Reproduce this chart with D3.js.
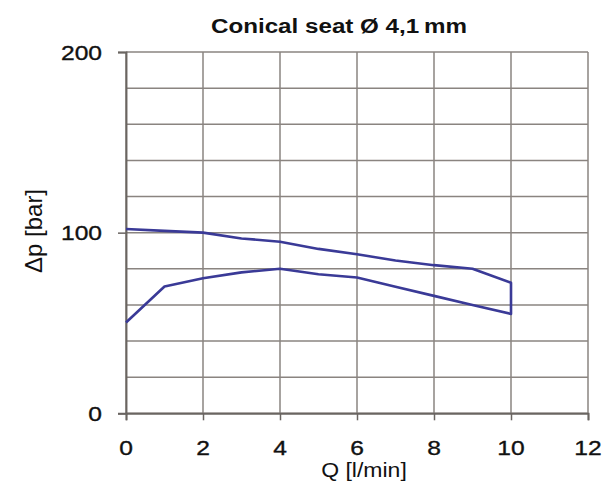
<!DOCTYPE html>
<html>
<head>
<meta charset="utf-8">
<script src="https://cdn.jsdelivr.net/npm/d3@7"></script>
<style>
  html, body { margin: 0; padding: 0; background: #ffffff; }
  svg { display: block; }
  text { font-family: "Liberation Sans", Arial, Helvetica, sans-serif; fill: #111111; }
  .label { stroke: #111111; stroke-width: 0.35; }
</style>
</head>
<body>
<svg id="chart" width="610" height="495"></svg>
<script>
// Flow rate Q [l/min] sampled along both branches of the curve
const flowUpper = [0, 1, 2, 3, 4, 5, 6, 7, 8, 9, 10];
const dpUpper   = [102, 101, 100, 96.8, 95, 91, 88, 84.6, 82, 80, 72.3];
const flowLower = [0, 1, 2, 3, 4, 5, 6, 7, 8, 9, 10];
const dpLower   = [50.3, 70.2, 74.8, 78, 80, 77, 75.2, 70.1, 65, 60, 55];

const xTicks = [0, 2, 4, 6, 8, 10, 12];
const yTicks = [0, 100, 200];
const yGrid  = [0, 20, 40, 60, 80, 100, 120, 140, 160, 180, 200];

const titleText = "Conical seat Ø 4,1\u2009mm";
const xLabel = "Q [l/min]";
const yLabel = "Δp [bar]";

const svg = d3.select("#chart");
const margin = { left: 126, right: 22, top: 52, bottom: 82 };
const W = 610, H = 495;

const x = d3.scaleLinear().domain([0, 12]).range([margin.left, W - margin.right]);
const y = d3.scaleLinear().domain([0, 200]).range([H - margin.bottom + 0.3, margin.top]);

const gridColor = "#8a8480";
const axisColor = "#6a6561";
const stretch = 1.2;   // horizontal text width factor

// grid
const grid = svg.append("g");
grid.selectAll("line.v").data(xTicks).join("line")
  .attr("x1", d => x(d)).attr("x2", d => x(d))
  .attr("y1", y(0)).attr("y2", y(200))
  .attr("stroke", gridColor).attr("stroke-width", 1.5);
grid.selectAll("line.h").data(yGrid).join("line")
  .attr("x1", x(0)).attr("x2", x(12))
  .attr("y1", d => y(d)).attr("y2", d => y(d))
  .attr("stroke", gridColor).attr("stroke-width", 1.5);

// axes
const xAxis = d3.axisBottom(x).tickValues(xTicks).tickSize(7).tickFormat("");
const yAxis = d3.axisLeft(y).tickValues(yTicks).tickSize(8).tickFormat("");
const gx = svg.append("g").attr("transform", `translate(0,${y(0)})`).call(xAxis);
const gy = svg.append("g").attr("transform", `translate(${x(0)},0)`).call(yAxis);
[gx, gy].forEach(g => {
  g.select(".domain").attr("stroke", axisColor).attr("stroke-width", 1.9);
  g.selectAll(".tick line").attr("stroke", axisColor).attr("stroke-width", 1.5);
});

// tick labels
svg.append("g").selectAll("text").data(xTicks).join("text")
  .attr("class", "label")
  .attr("transform", d => `translate(${x(d)},455) scale(${stretch},1)`)
  .attr("text-anchor", "middle")
  .attr("font-size", 20.5)
  .text(d => d);
svg.append("g").selectAll("text").data(yTicks).join("text")
  .attr("class", "label")
  .attr("transform", d => `translate(102,${y(d) + 7.5}) scale(${stretch},1)`)
  .attr("text-anchor", "end")
  .attr("font-size", 20.5)
  .text(d => d);

// curve: upper branch out to 10 l/min, down the vertical edge, back along the lower branch
const upper = flowUpper.map((q, i) => [q, dpUpper[i]]);
const lower = flowLower.map((q, i) => [q, dpLower[i]]).reverse();
const line = d3.line().x(d => x(d[0])).y(d => y(d[1]));
svg.append("path")
  .datum(upper.concat(lower))
  .attr("d", line)
  .attr("fill", "none")
  .attr("stroke", "#3a3a97")
  .attr("stroke-width", 2.6)
  .attr("stroke-linejoin", "round");

// title and axis labels
svg.append("text")
  .attr("transform", `translate(339,33) scale(1.18,1)`)
  .attr("text-anchor", "middle")
  .attr("font-size", 20.5)
  .attr("font-weight", "bold")
  .text(titleText);
svg.append("text")
  .attr("transform", `translate(364,477) scale(1.18,1)`)
  .attr("text-anchor", "middle")
  .attr("font-size", 19.5)
  .text(xLabel);
svg.append("text")
  .attr("transform", `translate(42,231) rotate(-90)`)
  .attr("text-anchor", "middle")
  .attr("font-size", 24)
  .text(yLabel);
</script>
</body>
</html>
